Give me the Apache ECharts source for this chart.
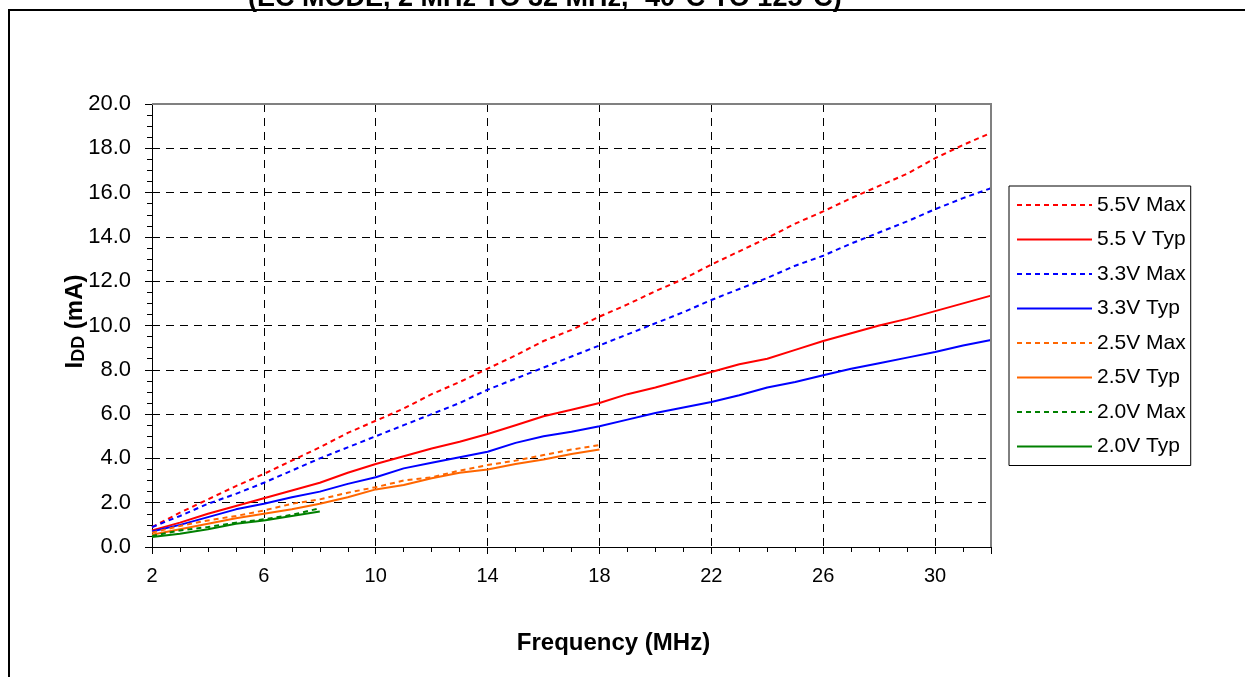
<!DOCTYPE html>
<html><head><meta charset="utf-8">
<script src="https://cdn.jsdelivr.net/npm/echarts@6/dist/echarts.min.js"></script>
<style>html,body{margin:0;padding:0;background:#fff}#c{width:1245px;height:677px}</style>
</head><body><div id="c"></div>
<script>
const titleText = '(EC MODE, 2 MHz TO 32 MHz, -40°C TO 125°C)';
const xTitle = 'Frequency (MHz)';
const freq32 = [2,3,4,5,6,7,8,9,10,11,12,13,14,15,16,17,18,19,20,21,22,23,24,25,26,27,28,29,30,31,32];
const freq18 = [2,3,4,5,6,7,8,9,10,11,12,13,14,15,16,17,18];
const freq8 = [2,3,4,5,6,7,8];
const v55Max = [0.9,1.55,2.15,2.75,3.3,3.9,4.5,5.15,5.7,6.25,6.9,7.45,8.05,8.65,9.3,9.8,10.4,10.95,11.55,12.1,12.75,13.35,13.95,14.6,15.15,15.75,16.3,16.85,17.55,18.15,18.7];
const v55Typ = [0.75,1.1,1.5,1.85,2.2,2.55,2.9,3.35,3.75,4.1,4.45,4.75,5.1,5.5,5.9,6.2,6.5,6.9,7.2,7.55,7.9,8.25,8.5,8.9,9.3,9.65,10.0,10.3,10.65,11.0,11.35];
const v33Max = [0.9,1.4,1.95,2.4,2.9,3.45,4.0,4.5,5.0,5.5,6.0,6.5,7.1,7.6,8.1,8.6,9.1,9.6,10.1,10.6,11.15,11.65,12.15,12.7,13.15,13.7,14.2,14.7,15.25,15.75,16.2];
const v33Typ = [0.7,1.0,1.35,1.7,1.95,2.25,2.5,2.85,3.15,3.55,3.8,4.05,4.3,4.7,5.0,5.2,5.45,5.75,6.05,6.3,6.55,6.85,7.2,7.45,7.75,8.05,8.3,8.55,8.8,9.1,9.35];
const v25Max = [0.65,0.95,1.2,1.4,1.65,1.95,2.15,2.45,2.7,3.0,3.15,3.45,3.7,3.9,4.15,4.4,4.6];
const v25Typ = [0.55,0.8,1.05,1.3,1.5,1.7,1.95,2.25,2.6,2.8,3.1,3.35,3.5,3.75,3.95,4.2,4.4];
const v20Max = [0.5,0.75,0.9,1.1,1.25,1.45,1.75];
const v20Typ = [0.45,0.6,0.8,1.05,1.2,1.4,1.6];

const chart = echarts.init(document.getElementById('c'), null, {renderer:'canvas'});
const FONT = '"Liberation Sans", Arial, sans-serif';
function mk(name, xs, ys, color, dashed) {
  return {
    name, type:'line', data: xs.map((x,i)=>[x, ys[i]]), symbol:'none', z:5,
    lineStyle:{color, width:2, type: dashed ? [5,4] : 'solid'},
    itemStyle:{color}, emphasis:{disabled:true}
  };
}
const option = {
  animation:false,
  textStyle:{fontFamily:FONT},
  title:{text:titleText, left:248, top:-15, padding:0, textStyle:{fontSize:27, lineHeight:27, fontWeight:'bold', color:'#000', fontFamily:FONT}},
  grid:{left:152, top:104, right:254, bottom:130, show:false},
  legend:{
    orient:'vertical', left:1009, top:186, backgroundColor:'#fff', borderColor:'#000', borderWidth:1,
    padding:[7,5,7,7], itemWidth:75, itemHeight:14, itemGap:10.5,
    itemStyle:{opacity:0},
    textStyle:{fontSize:21, color:'#000', fontFamily:FONT, lineHeight:24, padding:[0,0,0,0]},
    data:['5.5V Max','5.5 V Typ','3.3V Max','3.3V Typ','2.5V Max','2.5V Typ','2.0V Max','2.0V Typ']
  },
  xAxis:{
    type:'value', min:2, max:32, interval:4,
    axisLine:{show:true, lineStyle:{color:'#000', width:1}},
    axisTick:{show:true, length:7, lineStyle:{color:'#000'}},
    minorTick:{show:true, splitNumber:4, length:5, lineStyle:{color:'#000'}},
    splitLine:{show:true, lineStyle:{color:'#000', width:1, type:[8,6]}},
    axisLabel:{fontSize:20, color:'#000', margin:19, fontFamily:FONT, showMaxLabel:false},
    name:xTitle, nameLocation:'middle', nameGap:84, nameMoveOverlap:false,
    nameTextStyle:{fontSize:24, fontWeight:'bold', color:'#000', fontFamily:FONT, padding:[0,0,0,84]}
  },
  yAxis:{
    type:'value', min:0, max:20, interval:2,
    axisLine:{show:true, lineStyle:{color:'#000', width:1}},
    axisTick:{show:true, length:7, lineStyle:{color:'#000'}},
    minorTick:{show:true, splitNumber:4, length:5, lineStyle:{color:'#000'}},
    splitLine:{show:true, lineStyle:{color:'#000', width:1, type:[8,6]}},
    axisLabel:{fontSize:22, color:'#000', margin:21, fontFamily:FONT, formatter:v=>v.toFixed(1)},
    name:'{i|I}{s|DD}{i| (mA)}', nameLocation:'middle', nameGap:64, nameMoveOverlap:false,
    nameTextStyle:{color:'#000', fontFamily:FONT, padding:[0,0,0,8], rich:{
      i:{fontSize:24, fontWeight:'bold', color:'#000', fontFamily:FONT, lineHeight:26},
      s:{fontSize:18, fontWeight:'bold', color:'#000', fontFamily:FONT, lineHeight:26, verticalAlign:'bottom', padding:[6,0,0,0]}
    }}
  },
  series:[
    mk('5.5V Max', freq32, v55Max, '#FF0000', true),
    mk('5.5 V Typ', freq32, v55Typ, '#FF0000', false),
    mk('3.3V Max', freq32, v33Max, '#0000FF', true),
    mk('3.3V Typ', freq32, v33Typ, '#0000FF', false),
    mk('2.5V Max', freq18, v25Max, '#FF6600', true),
    mk('2.5V Typ', freq18, v25Typ, '#FF6600', false),
    mk('2.0V Max', freq8, v20Max, '#008000', true),
    mk('2.0V Typ', freq8, v20Typ, '#008000', false)
  ]
};
chart.setOption(option);
const p0 = chart.convertToPixel({gridIndex:0}, [2, 20]);
const p1 = chart.convertToPixel({gridIndex:0}, [32, 0]);
chart.setOption({graphic:[
  {type:'rect', z:1, silent:true, shape:{x:9, y:10, width:1400, height:900}, style:{fill:null, stroke:'#000', lineWidth:2}},
  {type:'polyline', z:10, silent:true, shape:{points:[[p0[0], p0[1]], [p1[0], p0[1]], [p1[0], p1[1]]]}, style:{fill:null, stroke:'#808080', lineWidth:2}}
]});
</script>
</body></html>
